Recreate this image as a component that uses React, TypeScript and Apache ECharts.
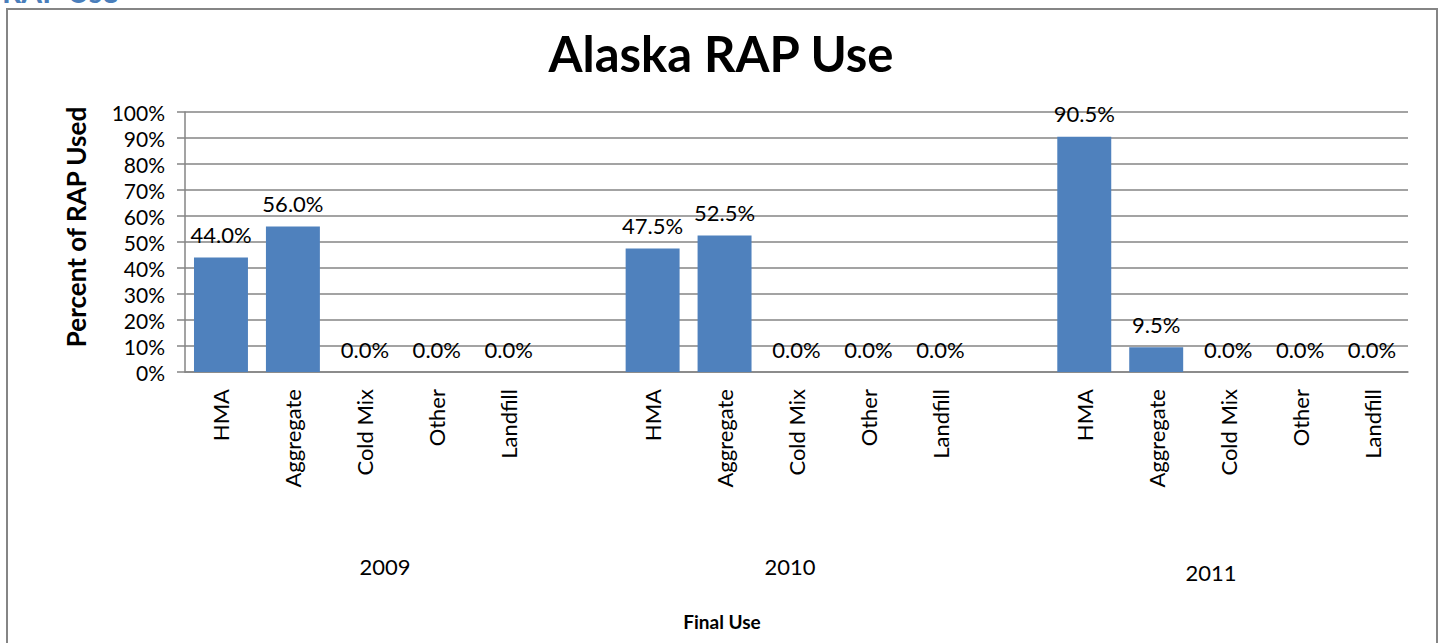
import React, { useEffect, useRef } from "react";
import * as echarts from "echarts";

// ---- data ----
const years = ["2009", "2010", "2011"];
const finalUses = ["HMA", "Aggregate", "Cold Mix", "Other", "Landfill"];
const values2009 = [44.0, 56.0, 0.0, 0.0, 0.0];
const values2010 = [47.5, 52.5, 0.0, 0.0, 0.0];
const values2011 = [90.5, 9.5, 0.0, 0.0, 0.0];
const yearValues = [values2009, values2010, values2011];

const chartTitle = "Alaska RAP Use";
const yAxisTitle = "Percent of RAP Used";
const xAxisTitle = "Final Use";
const headerFragment = "RAP Use";

const FONT = "Lato, 'Open Sans', sans-serif";
const GRID_COLOR = "#858585";
const BAR_COLOR = "#4F81BD";

// build the flat category list with a spacer between years
const categories: string[] = [];
const barData: (number | null)[] = [];
yearValues.forEach((vals, yi) => {
  finalUses.forEach((u, ui) => {
    categories.push(u);
    barData.push(vals[ui]);
  });
  if (yi < yearValues.length - 1) {
    categories.push("");
    barData.push(null);
  }
});

// positions of year labels (layout only)
const yearLabelPos = [
  { x: 385, y: 566 },
  { x: 790, y: 566 },
  { x: 1211, y: 572 },
];

export default function App() {
  const ref = useRef<HTMLDivElement>(null);

  useEffect(() => {
    if (!ref.current) return;
    const chart = echarts.init(ref.current, undefined, { renderer: "svg" });

    const graphics: any[] = [
      {
        type: "rect",
        shape: { x: 7, y: 9, width: 1430, height: 660 },
        style: { fill: "none", stroke: GRID_COLOR, lineWidth: 2 },
        silent: true,
      },
      {
        type: "text",
        x: 2,
        y: 6,
        style: {
          text: headerFragment,
          font: `bold 30px ${FONT}`,
          fill: "#4A7EBB",
          textAlign: "left",
          textVerticalAlign: "bottom",
        },
      },
      {
        type: "text",
        x: 721,
        y: 53,
        style: {
          text: chartTitle,
          font: `bold 49px ${FONT}`,
          fill: "#000",
          textAlign: "center",
          textVerticalAlign: "middle",
        },
      },
      {
        type: "text",
        x: 76,
        y: 227,
        rotation: Math.PI / 2,
        style: {
          text: yAxisTitle,
          font: `bold 26px ${FONT}`,
          fill: "#000",
          textAlign: "center",
          textVerticalAlign: "middle",
        },
      },
      {
        type: "text",
        x: 722,
        y: 621,
        style: {
          text: xAxisTitle,
          font: `bold 19px ${FONT}`,
          fill: "#000",
          textAlign: "center",
          textVerticalAlign: "middle",
        },
      },
      ...years.map((yr, i) => ({
        type: "text",
        x: yearLabelPos[i].x,
        y: yearLabelPos[i].y,
        style: {
          text: yr,
          font: `22px ${FONT}`,
          fill: "#000",
          textAlign: "center",
          textVerticalAlign: "middle",
        },
      })),
    ];

    chart.setOption({
      animation: false,
      backgroundColor: "#fff",
      textStyle: { fontFamily: FONT },
      grid: { left: 185, right: 35, top: 112, bottom: 271, containLabel: false },
      xAxis: {
        type: "category",
        data: categories,
        axisLine: { show: true, lineStyle: { color: GRID_COLOR, width: 1.5 } },
        axisTick: { show: false },
        axisLabel: {
          interval: 0,
          rotate: 90,
          fontSize: 22,
          color: "#000",
          fontFamily: FONT,
          margin: 17,
        },
        splitLine: { show: false },
      },
      yAxis: {
        type: "value",
        min: 0,
        max: 100,
        interval: 10,
        axisLine: { show: true, lineStyle: { color: GRID_COLOR, width: 1.5 } },
        axisTick: { show: true, inside: false, length: 8, lineStyle: { color: GRID_COLOR, width: 1.5 } },
        axisLabel: {
          formatter: "{value}%",
          fontSize: 21,
          color: "#000",
          fontFamily: FONT,
          margin: 20,
        },
        splitLine: { show: true, lineStyle: { color: GRID_COLOR, width: 1.5 } },
      },
      series: [
        {
          type: "bar",
          data: barData,
          barCategoryGap: "25%",
          itemStyle: { color: BAR_COLOR },
          label: {
            show: true,
            position: "top",
            distance: 12,
            fontSize: 22,
            color: "#000",
            fontFamily: FONT,
            formatter: (p: any) =>
              p.value == null ? "" : Number(p.value).toFixed(1) + "%",
          },
        },
      ],
      graphic: graphics,
    });

    return () => chart.dispose();
  }, []);

  return (
    <div
      ref={ref}
      style={{ position: "fixed", left: 0, top: 0, width: 1443, height: 643 }}
    />
  );
}
